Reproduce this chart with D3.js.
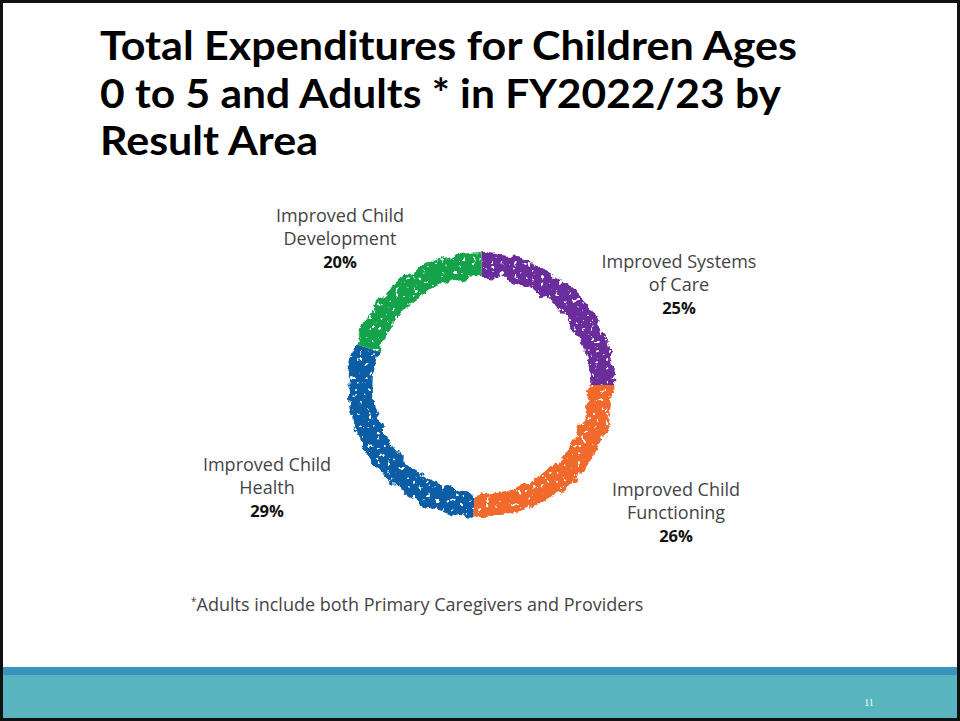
<!DOCTYPE html>
<html>
<head>
<meta charset="utf-8">
<script src="https://cdn.jsdelivr.net/npm/d3@7"></script>
<style>
  html, body { margin: 0; padding: 0; background: #fff; }
  svg { display: block; }
</style>
</head>
<body>
<svg id="chart" width="960" height="721"></svg>
<script>
// ---- data ----
const titleLines = ["Total Expenditures for Children Ages", "0 to 5 and Adults * in FY2022/23 by", "Result Area"];
const categories = ["Improved Systems of Care", "Improved Child Functioning", "Improved Child Health", "Improved Child Development"];
const labelLines = [["Improved Systems", "of Care"], ["Improved Child", "Functioning"], ["Improved Child", "Health"], ["Improved Child", "Development"]];
const values = [25, 26, 29, 20];
const colors = ["#6a2d9b", "#f26a2b", "#0b5ea6", "#14a24a"];
const footnote = "Adults include both Primary Caregivers and Providers";
const pageNumber = "11";

// ---- layout ----
const W = 960, H = 721;
const svg = d3.select("#chart");
const defs = svg.append("defs");

svg.append("rect").attr("x", 0).attr("y", 0).attr("width", W).attr("height", H).attr("fill", "#fff");

// bottom band
svg.append("rect").attr("x", 0).attr("y", 667).attr("width", W).attr("height", 8).attr("fill", "#3795bd");
svg.append("rect").attr("x", 0).attr("y", 675).attr("width", W).attr("height", 46).attr("fill", "#58b5c0");
svg.append("text").attr("x", 869).attr("y", 706).attr("text-anchor", "middle")
  .attr("font-family", "Liberation Serif, serif").attr("font-size", 10).attr("fill", "#fff").text(pageNumber);

svg.append("rect").attr("x", 1.5).attr("y", 1.5).attr("width", W - 3).attr("height", H - 3)
  .attr("fill", "none").attr("stroke", "#111").attr("stroke-width", 3);

// title
const titleWidths = [697, 681, 218];
const title = svg.append("g");
titleLines.forEach((t, i) => {
  title.append("text")
    .attr("x", 100).attr("y", 60 + i * 47.5)
    .attr("font-family", "Lato, 'Open Sans', sans-serif")
    .attr("font-weight", 700)
    .attr("font-size", 40)
    .attr("fill", "#000")
    .attr("textLength", titleWidths[i])
    .attr("lengthAdjust", "spacingAndGlyphs")
    .text(t);
});

// donut
const cx = 481.5, cy = 385, rOuter = 133, rInner = 108;
const pie = d3.pie().sort(null).value(d => d)(values);
const arc = d3.arc().innerRadius(rInner - 12).outerRadius(rOuter + 12);

// rough ring mask (filter region in local coordinates of the centred group)
const filt = defs.append("filter").attr("id", "rough")
  .attr("filterUnits", "userSpaceOnUse")
  .attr("x", -180).attr("y", -180).attr("width", 360).attr("height", 360)
  .attr("color-interpolation-filters", "sRGB");
filt.append("feTurbulence").attr("type", "fractalNoise").attr("baseFrequency", 0.08)
  .attr("numOctaves", 4).attr("seed", 7).attr("result", "n");
filt.append("feDisplacementMap").attr("in", "SourceGraphic").attr("in2", "n")
  .attr("scale", 12).attr("xChannelSelector", "R").attr("yChannelSelector", "G").attr("result", "d");
filt.append("feTurbulence").attr("type", "fractalNoise").attr("baseFrequency", 0.22)
  .attr("numOctaves", 2).attr("seed", 3).attr("result", "n2");
filt.append("feColorMatrix").attr("in", "n2").attr("type", "matrix")
  .attr("values", "0 0 0 0 1  0 0 0 0 1  0 0 0 0 1  -16 0 0 0 11.6").attr("result", "holes");
filt.append("feComposite").attr("in", "d").attr("in2", "holes").attr("operator", "in");

const mask = defs.append("mask").attr("id", "ringMask")
  .attr("maskUnits", "userSpaceOnUse").attr("x", 0).attr("y", 0).attr("width", W).attr("height", H);
mask.append("g").attr("transform", `translate(${cx},${cy})`)
  .append("path")
  .attr("d", d3.arc().innerRadius(rInner).outerRadius(rOuter).startAngle(0).endAngle(2 * Math.PI)())
  .attr("fill", "#fff")
  .attr("filter", "url(#rough)");

const donut = svg.append("g").attr("mask", "url(#ringMask)")
  .append("g").attr("transform", `translate(${cx},${cy})`);
donut.selectAll("path").data(pie).join("path")
  .attr("d", arc)
  .attr("fill", (d, i) => colors[i]);

// labels
const labelPos = [[679, 268], [676, 496], [267, 471], [340, 222]];
const lab = svg.append("g").attr("text-anchor", "middle");
pie.forEach((d, i) => {
  const [x, y] = labelPos[i];
  const g = lab.append("g");
  labelLines[i].forEach((t, j) => {
    g.append("text").attr("x", x).attr("y", y + j * 22.5)
      .attr("font-family", "'Open Sans', Lato, sans-serif")
      .attr("font-size", 18).attr("fill", "#444").text(t);
  });
  g.append("text").attr("x", x).attr("y", y + 45.5)
    .attr("font-family", "'Open Sans', Lato, sans-serif")
    .attr("font-weight", 700)
    .attr("font-size", 16.5).attr("fill", "#111")
    .text(Math.round(d.value / d3.sum(values) * 100) + "%");
});

// footnote
const fn = svg.append("text").attr("x", 191).attr("y", 611)
  .attr("font-family", "'Open Sans', Lato, sans-serif")
  .attr("font-size", 18).attr("fill", "#444");
fn.append("tspan").attr("font-size", 10).attr("dy", -6).text("*");
fn.append("tspan").attr("dy", 6).text(footnote);
</script>
</body>
</html>
